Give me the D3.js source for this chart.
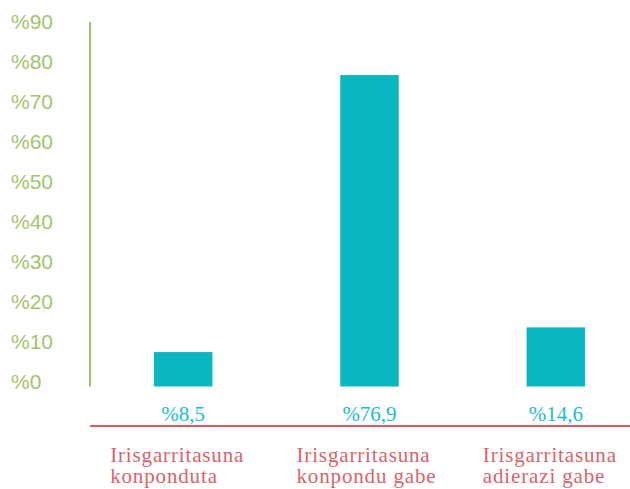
<!DOCTYPE html>
<html><head><meta charset="utf-8">
<script src="https://cdn.jsdelivr.net/npm/d3@7"></script>
<style>body{margin:0;background:#fff}</style>
</head><body>
<svg id="chart" width="630" height="489"></svg>
<script>
const categories = [["Irisgarritasuna","konponduta"],["Irisgarritasuna","konpondu gabe"],["Irisgarritasuna","adierazi gabe"]];
const values = [8.5, 76.9, 14.6];
const valueLabels = ["%8,5", "%76,9", "%14,6"];
const tickValues = [0,10,20,30,40,50,60,70,80,90];
const tickLabels = ["%0","%10","%20","%30","%40","%50","%60","%70","%80","%90"];

const svg = d3.select("#chart");
const y = d3.scaleLinear().domain([0, 90]).range([386.5, 22]);
const yLab = d3.scaleLinear().domain([0, 90]).range([382, 22]);
const x = d3.scaleBand().domain(d3.range(values.length)).range([90, 649]).paddingInner(0.686).paddingOuter(0.343);

// y tick labels
const yAxis = d3.axisLeft(yLab).tickValues(tickValues).tickFormat((d,i)=>tickLabels[i]).tickSize(0).tickPadding(0);
const gy = svg.append("g").attr("transform","translate(11,0)").call(yAxis);
gy.select(".domain").remove();
gy.selectAll("text").attr("text-anchor","start").attr("x",0)
  .attr("font-family","'Liberation Sans', Arial, sans-serif").attr("font-size",21).attr("fill","#a1c46c");

// axis line
svg.append("line").attr("x1",90).attr("x2",90).attr("y1",y(90)).attr("y2",y(0))
  .attr("stroke","#9cc266").attr("stroke-width",2);

// bars
svg.selectAll("rect.bar").data(values).join("rect").attr("class","bar")
  .attr("x",(d,i)=>x(i)).attr("width",x.bandwidth())
  .attr("y",d=>y(d)).attr("height",d=>y(0)-y(d)).attr("fill","#0ab7c0");

// value labels
svg.selectAll("text.val").data(valueLabels).join("text").attr("class","val")
  .attr("x",(d,i)=>x(i)+x.bandwidth()/2).attr("y",421)
  .attr("text-anchor","middle").attr("font-family","'Liberation Serif', 'Times New Roman', serif")
  .attr("font-size",21).attr("fill","#1bbdcb").text(d=>d);

// red line
svg.append("line").attr("x1",90).attr("x2",630).attr("y1",426).attr("y2",426)
  .attr("stroke","#d9595e").attr("stroke-width",2);

// category labels
const cat = svg.selectAll("text.cat").data(categories).join("text").attr("class","cat")
  .attr("font-family","'Liberation Serif', 'Times New Roman', serif").attr("font-size",21)
  .attr("letter-spacing","0.85px").attr("fill","#d9636a");
cat.each(function(lines,i){
  const t = d3.select(this);
  lines.forEach((l,j)=>{
    t.append("tspan").attr("x", x(i)+x.bandwidth()/2-73).attr("y", 461.5 + j*21.5).text(l);
  });
});
</script>
</body></html>
